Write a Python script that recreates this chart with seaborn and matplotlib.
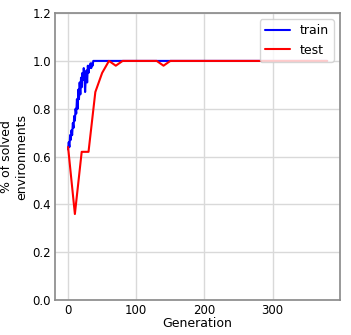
import matplotlib
matplotlib.use("Agg")
import matplotlib.pyplot as plt
import seaborn as sns
import pandas as pd

# Dados
train_gen = [0, 1, 2, 3, 4, 5, 6, 7, 8, 9, 10, 11, 12, 13, 14, 15, 16, 17, 18, 19,
             20, 21, 22, 23, 24, 25, 26, 27, 28, 29, 30, 31, 32, 33, 34, 35, 36, 37, 380]
train_acc = [0.63, 0.66, 0.64, 0.69, 0.67, 0.71, 0.69, 0.74, 0.72, 0.77,
             0.75, 0.80, 0.78, 0.84, 0.80, 0.88, 0.84, 0.91, 0.86, 0.93,
             0.89, 0.95, 0.92, 0.97, 0.94, 0.87, 0.93, 0.96, 0.91, 0.98,
             0.95, 0.98, 0.97, 0.99, 0.97, 0.99, 0.98, 1.0, 1.0]

test_gen = [0, 10, 20, 30, 40, 50, 60, 70, 80, 90, 100, 110, 120, 130, 140, 150,
            160, 170, 180, 190, 200, 210, 220, 230, 240, 250, 260, 270, 280, 290,
            300, 310, 320, 330, 340, 350, 360, 370, 380]
test_acc = [0.64, 0.36, 0.62, 0.62, 0.87, 0.95, 1.0, 0.98, 1.0, 1.0, 1.0, 1.0, 1.0,
            1.0, 0.98, 1.0, 1.0, 1.0, 1.0, 1.0, 1.0, 1.0, 1.0, 1.0, 1.0, 1.0, 1.0,
            1.0, 1.0, 1.0, 1.0, 1.0, 1.0, 1.0, 1.0, 1.0, 1.0, 1.0, 1.0]

df_train = pd.DataFrame({"gen": train_gen, "acc": train_acc})
df_test = pd.DataFrame({"gen": test_gen, "acc": test_acc})

sns.set_theme(style="whitegrid", rc={
    "axes.edgecolor": "0.55",
    "grid.color": "0.85",
    "text.color": "black",
    "xtick.color": "black",
    "ytick.color": "black",
    "axes.labelcolor": "black",
})
plt.rcParams["font.family"] = ["DejaVu Sans"]

fig = plt.figure(figsize=(3.51, 3.35), dpi=100)
ax = fig.add_axes([0.157, 0.104, 0.812, 0.857])

sns.lineplot(data=df_train, x="gen", y="acc", color="blue", lw=1.5,
             label="train", ax=ax)
sns.lineplot(data=df_test, x="gen", y="acc", color="red", lw=1.5,
             label="test", ax=ax)

ax.set_ylim(0, 1.2)
ax.set_yticks([0.0, 0.2, 0.4, 0.6, 0.8, 1.0, 1.2])
ax.set_xticks([0, 100, 200, 300])
ax.tick_params(labelsize=8.5, length=0, pad=3)
ax.set_xlabel("Generation", fontsize=9, labelpad=0)
ax.set_ylabel("% of solved\nenvironments", fontsize=9, labelpad=3)
ax.legend(loc="upper right", fontsize=9, frameon=True)

fig.savefig("out.png", dpi=100)
